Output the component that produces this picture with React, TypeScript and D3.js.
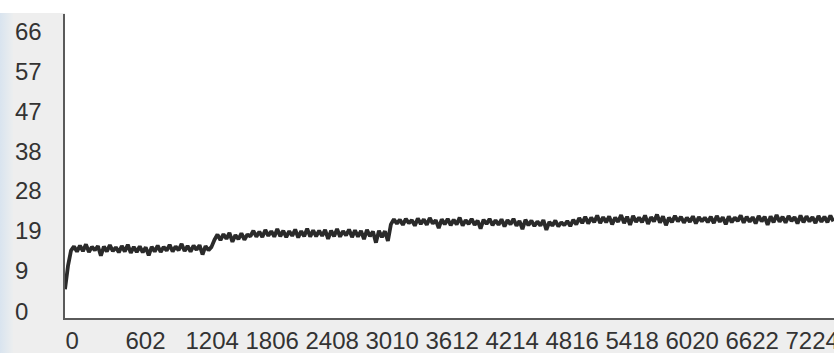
import React, { useEffect, useRef } from "react";
import * as d3 from "d3";

// sample spacing on the x axis (readings are every 30 units)
const sampleStep = 30;

const startValues = [7.0, 12.5];

const firstLevel = [
  16.1, 17.1, 15.9, 17.3, 16.0, 17.6, 15.8, 17.0, 16.2, 17.2, 14.9, 17.1,
  15.9, 17.4, 16.0, 16.9, 15.7, 17.2, 15.9, 17.5, 15.6, 17.0, 15.8, 17.1,
  15.7, 16.9, 15.0, 17.0, 15.9, 17.3, 15.8, 17.0, 16.1, 17.5, 15.9, 17.1,
  16.2, 17.7, 16.0, 17.2, 15.9, 17.3, 16.3, 17.4, 15.2, 17.2, 16.2, 17.0,
];

const secondLevel = [
  18.7, 19.9, 18.6, 20.0, 18.9, 20.3, 18.2, 19.8, 18.8, 20.2, 18.7, 19.9,
  19.5, 20.8, 19.4, 20.6, 19.3, 21.0, 19.6, 20.7, 19.4, 21.2, 19.5, 20.8,
  19.3, 20.7, 19.6, 21.1, 19.2, 20.7, 19.5, 21.3, 19.4, 20.9, 19.5, 20.8,
  19.6, 21.0, 18.9, 20.8, 19.5, 21.2, 19.4, 20.7, 19.7, 21.1, 19.3, 20.9,
  19.4, 20.8, 18.8, 21.0, 19.5, 20.6, 18.0, 20.8, 19.3, 20.7, 18.4,
];

const thirdLevel = [
  22.3, 23.5, 22.5, 23.4, 22.2, 23.6, 22.6, 23.3, 22.0, 23.7, 22.4, 23.5,
  22.2, 23.8, 22.5, 23.3, 21.4, 23.5, 22.3, 23.6, 22.1, 23.4, 22.3, 23.9,
  22.0, 23.3, 22.4, 23.6, 22.2, 23.2, 21.3, 23.4, 22.4, 23.6, 22.1, 23.3,
  22.2, 23.5, 21.8, 23.3, 22.3, 23.6, 22.0, 23.1, 21.2, 23.4, 22.1, 23.2,
  21.9, 23.0, 22.0, 23.3, 21.0, 22.9, 22.0, 23.2, 21.8, 22.8, 22.1, 23.1,
  21.9, 23.4, 22.3, 23.8, 22.6, 24.1, 22.5, 23.9, 22.8, 24.4, 22.6, 24.0,
  22.8, 24.2, 22.3, 23.9, 22.9, 24.5, 22.6, 24.1, 22.2, 24.3, 22.9, 23.9,
  22.8, 24.4, 22.4, 24.0, 23.0, 24.6, 22.7, 24.2, 22.1, 23.9, 22.8, 24.3,
  23.0, 24.1, 22.7, 23.9, 22.9, 24.2, 22.5, 24.0, 23.0, 23.9, 22.8, 24.1,
  22.6, 24.3, 22.9, 24.0, 22.3, 24.2, 22.8, 23.9, 23.1, 24.4, 22.7, 24.1,
  22.9, 24.0, 22.5, 24.3, 23.0, 24.1, 22.2, 24.2, 22.8, 24.5, 22.9, 24.1,
  22.7, 24.3, 23.1, 24.0, 22.5, 24.4, 22.8, 24.2, 23.0, 24.0, 22.6, 24.3,
  22.9, 24.1, 22.8, 24.4, 23.0,
];

const xTicks = [0, 602, 1204, 1806, 2408, 3010, 3612, 4214, 4816, 5418, 6020, 6622, 7224];
const yTicks = [0, 9.43, 18.86, 28.29, 37.71, 47.14, 56.57, 66];

const App = () => {
  const width = 834;
  const height = 353;
  const plotLeft = 65;
  const plotTop = 13;
  const plotBottom = 319;
  const svgRef = useRef<SVGSVGElement>(null);

  useEffect(() => {
    if (!svgRef.current) return;
    const svg = d3.select(svgRef.current);
    svg.selectAll("*").remove();

    const values = [...startValues, ...firstLevel, ...secondLevel, ...thirdLevel];
    const data = values.map((v, i) => ({ t: i * sampleStep, v }));

    const x = d3.scaleLinear().domain([0, 7716]).range([plotLeft, width]);
    const y = d3.scaleLinear().domain([0, 66]).range([plotBottom, 39]);

    const defs = svg.append("defs");
    const grad = defs
      .append("linearGradient")
      .attr("id", "edge")
      .attr("x1", "0")
      .attr("x2", "1");
    grad.append("stop").attr("offset", "0%").attr("stop-color", "#d9e4ef");
    grad.append("stop").attr("offset", "100%").attr("stop-color", "#eceeef");

    // panel backgrounds
    svg.append("rect").attr("width", width).attr("height", height).attr("fill", "#ffffff");
    svg
      .append("rect")
      .attr("y", plotTop)
      .attr("width", width)
      .attr("height", height - plotTop)
      .attr("fill", "#eeeeee");
    svg
      .append("rect")
      .attr("y", plotTop)
      .attr("width", 13)
      .attr("height", height - plotTop)
      .attr("fill", "url(#edge)");
    svg
      .append("rect")
      .attr("x", plotLeft)
      .attr("y", 0)
      .attr("width", width - plotLeft)
      .attr("height", plotBottom)
      .attr("fill", "#ffffff");

    const line = d3
      .line<{ t: number; v: number }>()
      .x((d) => x(d.t))
      .y((d) => y(d.v));

    svg
      .append("path")
      .datum(data)
      .attr("fill", "none")
      .attr("stroke", "#2a2a2a")
      .attr("stroke-width", 3.8)
      .attr("stroke-linejoin", "bevel")
      .attr("d", line);

    const font = "'Liberation Sans', Arial, sans-serif";

    svg
      .append("g")
      .attr("class", "yAxis")
      .attr("transform", `translate(${plotLeft - 1},0)`)
      .call(
        d3
          .axisLeft(y)
          .tickValues(yTicks)
          .tickSize(0)
          .tickFormat((d) => d3.format(".0f")(d as number)),
      )
      .call((g) => g.select(".domain").remove())
      .selectAll("text")
      .attr("x", 15 - (plotLeft - 1))
      .attr("dy", 0)
      .attr("text-anchor", "start")
      .style("font-family", font)
      .style("font-size", "24px")
      .style("fill", "#333333");

    svg
      .append("g")
      .attr("class", "xAxis")
      .attr("transform", `translate(0,${plotBottom})`)
      .call(d3.axisBottom(x).tickValues(xTicks).tickSize(0).tickFormat(d3.format("d")))
      .call((g) => g.select(".domain").remove())
      .selectAll("text")
      .attr("y", 30)
      .attr("dy", 0)
      .attr("text-anchor", "start")
      .style("font-family", font)
      .style("font-size", "24px")
      .style("fill", "#333333");

    // axis lines
    svg
      .append("line")
      .attr("x1", plotLeft - 1)
      .attr("x2", plotLeft - 1)
      .attr("y1", plotTop + 1)
      .attr("y2", plotBottom + 1)
      .attr("stroke", "#5a5a5a")
      .attr("stroke-width", 2);
    svg
      .append("line")
      .attr("x1", plotLeft - 2)
      .attr("x2", width)
      .attr("y1", plotBottom)
      .attr("y2", plotBottom)
      .attr("stroke", "#5a5a5a")
      .attr("stroke-width", 2);
  }, []);

  return (
    <div style={{ position: "fixed", left: 0, top: 0 }}>
      <svg ref={svgRef} width={width} height={height} style={{ display: "block" }}></svg>
    </div>
  );
};

export default App;
